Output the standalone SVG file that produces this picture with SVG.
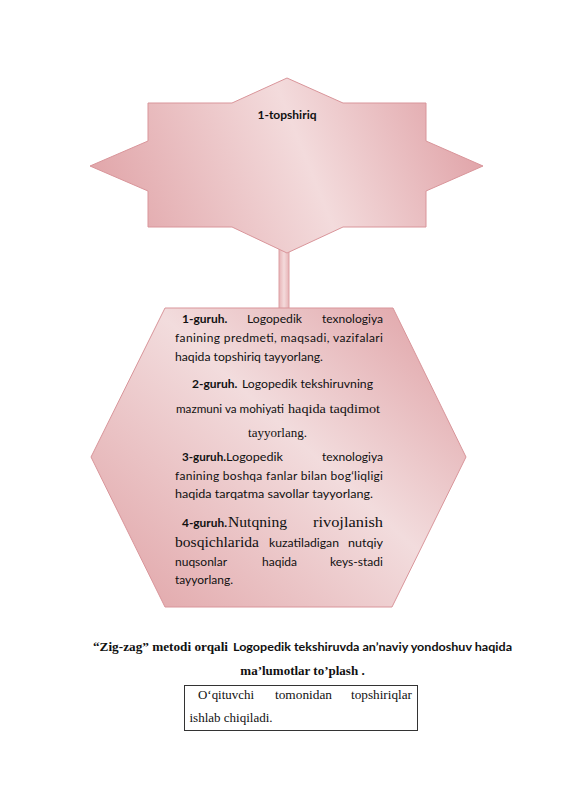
<svg xmlns="http://www.w3.org/2000/svg" width="565" height="800" viewBox="0 0 565 800">
<defs>
<linearGradient id="gStar" gradientUnits="userSpaceOnUse" x1="101" y1="239" x2="473" y2="91">
<stop offset="0" stop-color="#e0a2a6"/>
<stop offset="0.55" stop-color="#f3dbdc"/>
<stop offset="1" stop-color="#df9fa4"/>
</linearGradient>
<linearGradient id="gHex" gradientUnits="userSpaceOnUse" x1="430" y1="300" x2="140" y2="615">
<stop offset="0" stop-color="#e0a3a7"/>
<stop offset="0.45" stop-color="#f2dcdd"/>
<stop offset="1" stop-color="#e2a8ab"/>
</linearGradient>
<linearGradient id="gBar" x1="0" y1="0" x2="1" y2="0">
<stop offset="0" stop-color="#e7b3b6"/>
<stop offset="0.5" stop-color="#f4dadb"/>
<stop offset="1" stop-color="#e7b3b6"/>
</linearGradient>
</defs>
<style>
.shape{stroke:#d9959a;stroke-width:1}
.s{font-family:Lato,"Liberation Sans",sans-serif;font-size:12px;fill:#111}
.b{font-family:Lato,"Liberation Sans",sans-serif;font-size:12px;font-weight:bold;fill:#111}
.r{font-family:"Liberation Serif",serif;font-size:13px;fill:#111}
.rl{font-family:"Liberation Serif",serif;font-size:15px;fill:#111}
.rb{font-family:"Liberation Serif",serif;font-size:13px;font-weight:bold;fill:#111}
</style>
<rect width="565" height="800" fill="#fff"/>
<g id="connectors">
<path d="M279,246 L289,246 L289,310 L284,315 L279,310 Z" fill="url(#gBar)" stroke="#dca0a4" stroke-width="1"/>
</g>
<g id="node-topshiriq">
<path class="shape" fill="url(#gStar)" d="M148,103 L232,103 L287,78 L343,103 L426,103 L426,141 L483,166 L426,191 L426,227 L343,227 L287,253 L232,227 L148,227 L148,191 L90,166 L148,141 Z"/>
<text class="b" x="287" y="119" text-anchor="middle">1-topshiriq</text>
</g>
<g id="node-guruhlar">
<path class="shape" fill="url(#gHex)" d="M165,308 L393,308 L466,457 L392,607 L165,607 L91,457 Z"/>
<text class="b" x="182" y="323">1-guruh.</text>
<text class="s" x="247" y="323" textLength="55" lengthAdjust="spacingAndGlyphs">Logopedik</text>
<text class="s" x="322" y="323" textLength="61" lengthAdjust="spacingAndGlyphs">texnologiya</text>
<text class="s" x="175" y="342" textLength="208" lengthAdjust="spacing">fanining predmeti, maqsadi, vazifalari</text>
<text class="s" x="175" y="360.5" textLength="148" lengthAdjust="spacingAndGlyphs">haqida topshiriq tayyorlang.</text>
<text class="b" x="192" y="388">2-guruh.</text>
<text class="s" x="242" y="388" textLength="131" lengthAdjust="spacingAndGlyphs">Logopedik tekshiruvning</text>
<text class="s" x="176" y="413" textLength="108" lengthAdjust="spacingAndGlyphs">mazmuni va mohiyati</text>
<text class="r" x="288" y="413" textLength="92" lengthAdjust="spacingAndGlyphs">haqida taqdimot</text>
<text class="r" x="277.5" y="436.5" text-anchor="middle">tayyorlang.</text>
<text class="b" x="182" y="460.5" textLength="44" lengthAdjust="spacingAndGlyphs">3-guruh.</text>
<text class="s" x="226" y="460.5" textLength="57" lengthAdjust="spacingAndGlyphs">Logopedik</text>
<text class="s" x="322" y="460.5" textLength="61" lengthAdjust="spacingAndGlyphs">texnologiya</text>
<text class="s" x="175" y="479.5" textLength="208" lengthAdjust="spacing">fanining boshqa fanlar bilan bog‘liqligi</text>
<text class="s" x="175" y="498" textLength="198" lengthAdjust="spacingAndGlyphs">haqida tarqatma savollar tayyorlang.</text>
<text class="b" x="182" y="527" textLength="45" lengthAdjust="spacingAndGlyphs">4-guruh.</text>
<text class="rl" x="228" y="527" textLength="59" lengthAdjust="spacingAndGlyphs">Nutqning</text>
<text class="rl" x="313" y="527" textLength="70" lengthAdjust="spacingAndGlyphs">rivojlanish</text>
<text class="rl" x="175" y="546.5" textLength="84" lengthAdjust="spacingAndGlyphs">bosqichlarida</text>
<text class="s" x="269" y="546.5" textLength="70" lengthAdjust="spacingAndGlyphs">kuzatiladigan</text>
<text class="s" x="348" y="546.5" textLength="35" lengthAdjust="spacingAndGlyphs">nutqiy</text>
<text class="s" x="175" y="566" textLength="52" lengthAdjust="spacingAndGlyphs">nuqsonlar</text>
<text class="s" x="262" y="566" textLength="35" lengthAdjust="spacingAndGlyphs">haqida</text>
<text class="s" x="330" y="566" textLength="53" lengthAdjust="spacingAndGlyphs">keys-stadi</text>
<text class="s" x="175" y="584" textLength="58" lengthAdjust="spacingAndGlyphs">tayyorlang.</text>
</g>
<g id="caption">
<text class="rb" x="93" y="650.5" textLength="135" lengthAdjust="spacingAndGlyphs">“Zig-zag” metodi orqali</text>
<text class="b" x="233" y="650.5" textLength="279" lengthAdjust="spacingAndGlyphs">Logopedik tekshiruvda an’naviy yondoshuv haqida</text>
<text class="rb" x="302.5" y="674.5" text-anchor="middle">ma’lumotlar to’plash .</text>
</g>
<g id="node-oqituvchi">
<rect x="184.5" y="685.5" width="233" height="45" fill="#fff" stroke="#333" stroke-width="1"/>
<text class="r" x="198" y="699" textLength="56" lengthAdjust="spacingAndGlyphs">O‘qituvchi</text>
<text class="r" x="275" y="699" textLength="57" lengthAdjust="spacingAndGlyphs">tomonidan</text>
<text class="r" x="351" y="699" textLength="61" lengthAdjust="spacingAndGlyphs">topshiriqlar</text>
<text class="r" x="189.5" y="721.5">ishlab chiqiladi.</text>
</g>
</svg>
